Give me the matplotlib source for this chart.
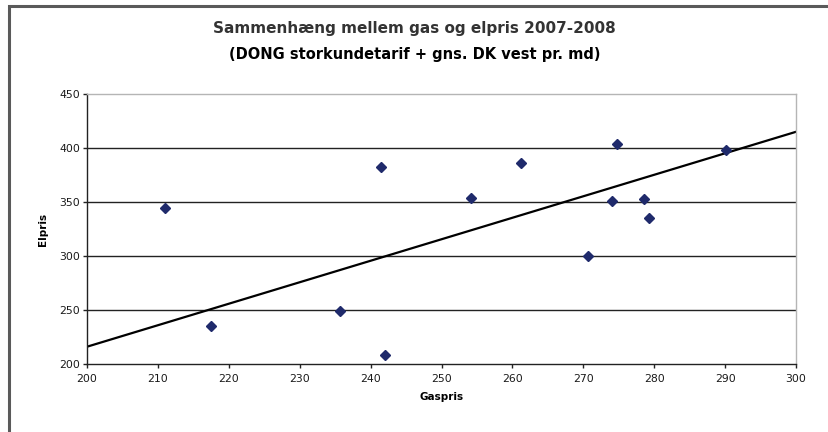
import matplotlib
matplotlib.use("Agg")
import matplotlib.pyplot as plt
from matplotlib.patches import Rectangle

# Data
gaspris = [211.0, 217.5, 235.7, 241.5, 242.0, 254.1, 261.2, 270.7, 274.0, 274.8, 278.5, 279.3, 290.1]
elpris = [344, 235, 249, 382, 208, 354, 386, 300, 351, 404, 353, 335, 398]
trend_x = [200, 300]
trend_y = [216, 415]
x_ticks = list(range(200, 301, 10))
y_ticks = list(range(200, 451, 50))

W, H = 829, 432
fig = plt.figure(figsize=(W / 100, H / 100), dpi=100)
fig.patch.set_facecolor("white")

# outer chart frame (top/left visible)
fig.patches.append(Rectangle((9 / W, -0.05), 1.2, (H - 6) / H + 0.05,
                             transform=fig.transFigure, fill=False,
                             edgecolor="#5a5a5a", linewidth=2.2))

ax = fig.add_axes([87 / W, 1 - 364 / H, (796 - 87) / W, (364 - 94) / H])
ax.set_xlim(200, 300)
ax.set_ylim(200, 450)
ax.set_xticks(x_ticks)
ax.set_yticks(y_ticks)

for y in y_ticks[1:-1]:
    ax.axhline(y, color="#222222", linewidth=1.0, zorder=1)

ax.plot(trend_x, trend_y, color="black", linewidth=1.6, zorder=2)
ax.plot(gaspris, elpris, linestyle="none", marker="D", markersize=4.6,
        color="#1f2a6b", zorder=3)

ax.spines["left"].set_color("#222222")
ax.spines["bottom"].set_color("#222222")
ax.spines["top"].set_color("#b5b5b5")
ax.spines["right"].set_color("#b5b5b5")
for s in ax.spines.values():
    s.set_linewidth(1.0)

ax.tick_params(axis="both", direction="out", length=3, width=1,
               colors="#222222", labelsize=7.8, labelcolor="#1a1a1a")
ax.tick_params(axis="x", pad=4)
ax.tick_params(axis="y", pad=2)

ax.set_xlabel("Gaspris", fontsize=7.5, fontweight="heavy", labelpad=6)
ax.set_ylabel("Elpris", fontsize=7.5, fontweight="heavy", labelpad=8)

fig.text(0.5, 1 - 28 / H, "Sammenhæng mellem gas og elpris 2007-2008",
         ha="center", va="center", fontsize=11, color="#333333", fontweight="semibold")
fig.text(0.5, 1 - 54 / H, "(DONG storkundetarif + gns. DK vest pr. md)",
         ha="center", va="center", fontsize=10.5, color="black", fontweight="heavy")

fig.savefig("out.png", dpi=100)
